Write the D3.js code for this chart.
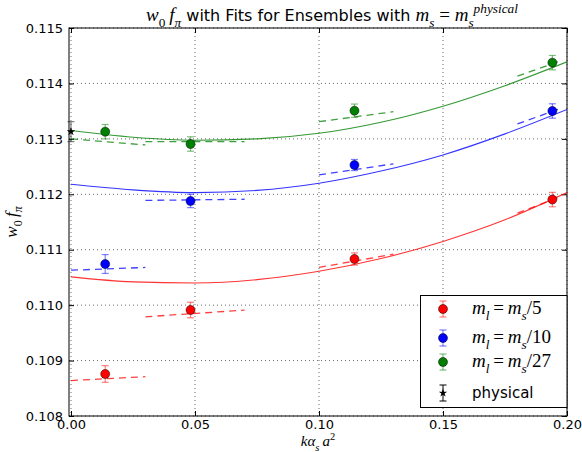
<!DOCTYPE html>
<meta charset="utf-8">
<style>
  body { margin: 0; background: #fff; }
  text { font-family: "DejaVu Sans", sans-serif; }
</style>
<svg width="582" height="452"></svg>
<script src="https://d3js.org/d3.v7.min.js"></script>
<script>
// ensemble x positions (k alpha_s a^2)
var ensX = [0.0138, 0.0482, 0.1143, 0.1941]

var redY   = [0.108758, 0.109912, 0.110833, 0.111905]
var redErr = [0.00015, 0.00014, 0.00011, 0.00013]
var blueY   = [0.110742, 0.111879, 0.112528, 0.113503]
var blueErr = [0.00017, 0.00012, 0.00010, 0.00013]
var greenY   = [0.113129, 0.112907, 0.113508, 0.114375]
var greenErr = [0.00013, 0.00013, 0.00012, 0.00013]

var physX = 0.0, physY = 0.11313, physErr = 0.00018

// fit curves
var curveX = [0, 0.025, 0.05, 0.075, 0.1, 0.125, 0.15, 0.175, 0.2]
var redFit   = [0.11051, 0.11042, 0.11040, 0.11046, 0.11061, 0.11084, 0.11115, 0.11154, 0.11203]
var blueFit  = [0.11218, 0.11208, 0.11203, 0.11207, 0.11220, 0.11242, 0.11271, 0.11309, 0.11353]
var greenFit = [0.11315, 0.11303, 0.112975, 0.11300, 0.11310, 0.11330, 0.11359, 0.11396, 0.11439]

// short dashed per-ensemble fits: [x0, y0, x1, y1]
var redDash = [[0, 0.10864, 0.03, 0.10871], [0.03, 0.10979, 0.07, 0.10991], [0.1, 0.11068, 0.13, 0.11092], [0.18, 0.11166, 0.1975, 0.11196]]
var blueDash = [[0, 0.11063, 0.03, 0.11068], [0.03, 0.11189, 0.07, 0.11191], [0.1, 0.11235, 0.13, 0.11255], [0.18, 0.11327, 0.1975, 0.11355]]
var greenDash = [[0, 0.11300, 0.03, 0.11289], [0.03, 0.11295, 0.07, 0.11295], [0.1, 0.11331, 0.13, 0.11349], [0.18, 0.11413, 0.1975, 0.11441]]

var xTicks = [0, 0.05, 0.1, 0.15, 0.2]
var yTicks = [0.108, 0.109, 0.110, 0.111, 0.112, 0.113, 0.114, 0.115]

var series = [
  { color: "#ff0000", y: redY, err: redErr, fit: redFit, dash: redDash, den: "5" },
  { color: "#0000ff", y: blueY, err: blueErr, fit: blueFit, dash: blueDash, den: "10" },
  { color: "#008000", y: greenY, err: greenErr, fit: greenFit, dash: greenDash, den: "27" }
]

var pLeft = 69, pRight = 567, pTop = 28, pBottom = 416
var svg = d3.select("svg")
var x = d3.scaleLinear().domain([-0.0008, 0.2]).range([pLeft, pRight])
var y = d3.scaleLinear().domain([0.108, 0.115]).range([pBottom, pTop])

var serif = "'Liberation Serif', 'DejaVu Serif', serif"

// grid
svg.append("g").selectAll("line").data(xTicks).enter().append("line")
  .attr("x1", d => x(d)).attr("x2", d => x(d)).attr("y1", pTop).attr("y2", pBottom)
  .attr("stroke", "#444").attr("stroke-width", 0.8).attr("stroke-dasharray", "1,3")
svg.append("g").selectAll("line").data(yTicks).enter().append("line")
  .attr("x1", pLeft).attr("x2", pRight).attr("y1", d => y(d)).attr("y2", d => y(d))
  .attr("stroke", "#444").attr("stroke-width", 0.8).attr("stroke-dasharray", "1,3")

// axes, ticks pointing inward
var fmtX = d3.format(".2f"), fmtY = d3.format(".3f")
svg.append("g").attr("transform", "translate(0," + pBottom + ")")
  .call(d3.axisBottom(x).tickValues(xTicks).tickFormat(fmtX).tickSizeInner(-5).tickSizeOuter(0).tickPadding(4))
svg.append("g").attr("transform", "translate(0," + pTop + ")")
  .call(d3.axisTop(x).tickValues(xTicks).tickFormat("").tickSizeInner(-5).tickSizeOuter(0))
svg.append("g").attr("transform", "translate(" + pLeft + ",0)")
  .call(d3.axisLeft(y).tickValues(yTicks).tickFormat(fmtY).tickSizeInner(-5).tickSizeOuter(0).tickPadding(6))
svg.append("g").attr("transform", "translate(" + pRight + ",0)")
  .call(d3.axisRight(y).tickValues(yTicks).tickFormat("").tickSizeInner(-5).tickSizeOuter(0))
svg.selectAll(".domain").remove()
svg.selectAll(".tick text").attr("font-size", 13).attr("font-family", "DejaVu Sans").attr("fill", "#000")
svg.selectAll(".tick line").attr("stroke", "#000")

svg.append("rect").attr("x", pLeft).attr("y", pTop).attr("width", pRight - pLeft).attr("height", pBottom - pTop)
  .attr("fill", "none").attr("stroke", "#000").attr("stroke-width", 1)

svg.append("clipPath").attr("id", "clip").append("rect")
  .attr("x", pLeft).attr("y", pTop).attr("width", pRight - pLeft).attr("height", pBottom - pTop)
var plot = svg.append("g").attr("clip-path", "url(#clip)")

var line = d3.line().x(d => x(d[0])).y(d => y(d[1])).curve(d3.curveMonotoneX)

series.forEach(function (s) {
  plot.append("path").datum(curveX.map((cx, i) => [cx, s.fit[i]]))
    .attr("d", line).attr("fill", "none").attr("stroke", s.color).attr("stroke-width", 1.1).attr("stroke-opacity", 0.8)
  plot.append("g").selectAll("line").data(s.dash).enter().append("line")
    .attr("x1", d => x(d[0])).attr("y1", d => y(d[1])).attr("x2", d => x(d[2])).attr("y2", d => y(d[3]))
    .attr("stroke", s.color).attr("stroke-width", 1.3).attr("stroke-opacity", 0.75).attr("stroke-dasharray", "7,5")
})

function errorBar(g, cx, cy, e, color) {
  g.append("line").attr("x1", x(cx)).attr("x2", x(cx)).attr("y1", y(cy - e)).attr("y2", y(cy + e))
    .attr("stroke", color).attr("stroke-opacity", 0.5).attr("stroke-width", 1.2)
  ;[cy - e, cy + e].forEach(function (v) {
    g.append("line").attr("x1", x(cx) - 3.5).attr("x2", x(cx) + 3.5).attr("y1", y(v)).attr("y2", y(v))
      .attr("stroke", color).attr("stroke-opacity", 0.5).attr("stroke-width", 1.2)
  })
}

var pts = svg.append("g")
series.forEach(function (s) {
  ensX.forEach(function (ex, i) {
    errorBar(pts, ex, s.y[i], s.err[i], s.color)
    pts.append("circle").attr("cx", x(ex)).attr("cy", y(s.y[i])).attr("r", 4.5)
      .attr("fill", s.color).attr("stroke", "#000").attr("stroke-width", 0.5)
  })
})
errorBar(pts, physX, physY, physErr, "#000")
pts.append("path").attr("d", d3.symbol(d3.symbolStar, 22)())
  .attr("transform", "translate(" + x(physX) + "," + y(physY) + ")").attr("fill", "#000")

// small helper for mathtext-like labels
function mathText(t, parts, size) {
  var shift = 0
  parts.forEach(function (p) {
    var txt = p[0], kind = p[1]
    var want = kind.indexOf("_") >= 0 ? size * 0.3 : kind.indexOf("^") >= 0 ? -size * 0.4 : 0
    var ts = t.append("tspan").text(txt).attr("dy", want - shift)
    shift = want
    var small = want !== 0
    ts.attr("font-size", small ? size * 0.7 : size)
    if (kind === "s") ts.attr("font-family", "DejaVu Sans").attr("font-size", p[2])
    else ts.attr("font-family", serif).attr("font-style", kind.indexOf("r") >= 0 ? "normal" : "italic")
  })
}

// title
var title = svg.append("text").attr("x", 332).attr("y", 21).attr("text-anchor", "middle")
mathText(title, [["w", "i"], ["0", "_r"], ["\u2009f", "i"], ["\u03c0", "_"],
  [" with Fits for Ensembles with ", "s", 16], ["m", "i"], ["s", "_"], [" = ", "r"], ["m", "i"], ["s", "_"], ["physical", "^"]], 19)

// y label
var yl = svg.append("text").attr("transform", "translate(17,222) rotate(-90)").attr("text-anchor", "middle")
mathText(yl, [["w", "i"], ["0", "_r"], ["\u2009f", "i"], ["\u03c0", "_"]], 17)

// x label
var xl = svg.append("text").attr("x", 318).attr("y", 446).attr("text-anchor", "middle")
mathText(xl, [["k\u03b1", "i"], ["s", "_"], ["\u2009a", "i"], ["2", "^r"]], 15)

// legend
var lg = svg.append("g")
lg.append("rect").attr("x", 420.5).attr("y", 295.5).attr("width", 146.5).attr("height", 112)
  .attr("fill", "#fff").attr("stroke", "#000").attr("stroke-width", 1)
var legY = [309, 338, 362, 393]
series.forEach(function (s, i) {
  var ly = legY[i]
  lg.append("line").attr("x1", 443).attr("x2", 443).attr("y1", ly - 8).attr("y2", ly + 8)
    .attr("stroke", s.color).attr("stroke-opacity", 0.5).attr("stroke-width", 1.2)
  ;[ly - 8, ly + 8].forEach(function (v) {
    lg.append("line").attr("x1", 439.5).attr("x2", 446.5).attr("y1", v).attr("y2", v)
      .attr("stroke", s.color).attr("stroke-opacity", 0.5).attr("stroke-width", 1.2)
  })
  lg.append("circle").attr("cx", 443).attr("cy", ly).attr("r", 4.5).attr("fill", s.color)
    .attr("stroke", "#000").attr("stroke-width", 0.5)
  var t = lg.append("text").attr("x", 472).attr("y", ly + 5)
  mathText(t, [["m", "i"], ["l", "_"], ["\u2009=\u2009", "r"], ["m", "i"], ["s", "_"], ["/" + s.den, "r"]], 19)
})
var py = legY[3]
lg.append("line").attr("x1", 443).attr("x2", 443).attr("y1", py - 8).attr("y2", py + 8).attr("stroke", "#000").attr("stroke-width", 1)
;[py - 8, py + 8].forEach(function (v) {
  lg.append("line").attr("x1", 439.5).attr("x2", 446.5).attr("y1", v).attr("y2", v).attr("stroke", "#000")
})
lg.append("path").attr("d", d3.symbol(d3.symbolStar, 22)()).attr("transform", "translate(443," + py + ")")
lg.append("text").attr("x", 472).attr("y", py + 5).attr("font-size", 15).text("physical")
</script>
